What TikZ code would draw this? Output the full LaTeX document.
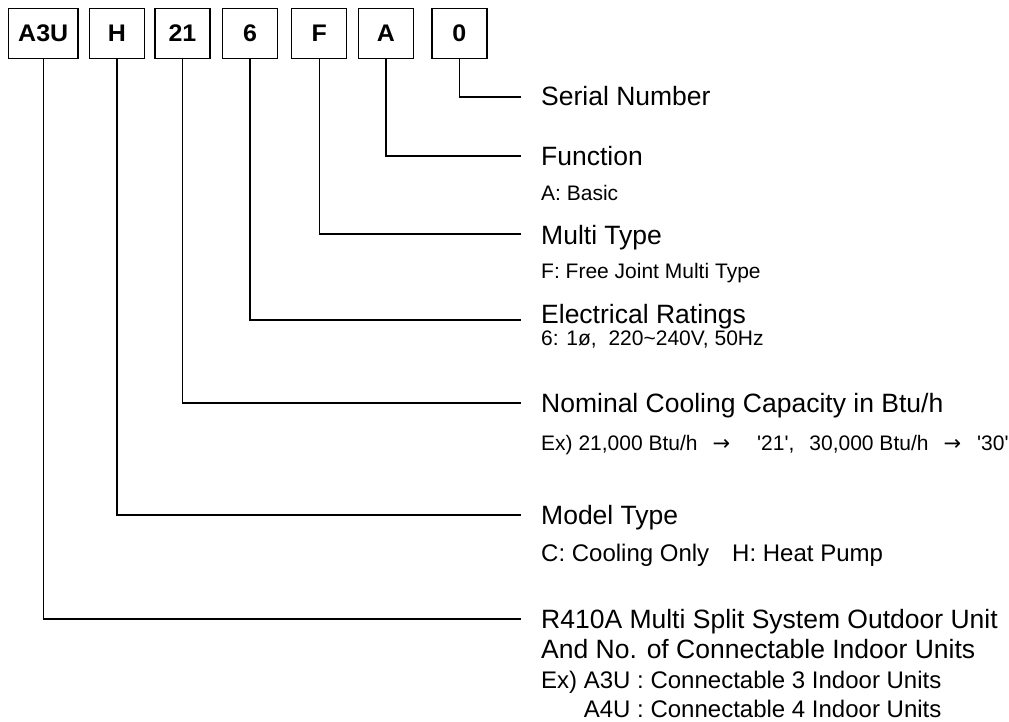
\documentclass[tikz,border=0pt]{standalone}
\usepackage{fontspec}
\usepackage{graphicx}
\newfontfamily\arial{Liberation Sans}
\newfontfamily\arrowfont{DejaVu Sans}
\tikzset{
  codebox/.style={draw, line width=1.5pt, minimum height=50pt, minimum width=55pt, inner sep=0pt,
    font=\arial\bfseries\fontsize{24}{24}\selectfont},
  lead/.style={line width=1.3pt},
  mainlbl/.style={anchor=base west, inner sep=0pt, font=\arial\fontsize{26.5}{26.5}\selectfont},
  sublbl/.style={anchor=base west, inner sep=0pt, font=\arial\fontsize{21}{21}\selectfont},
  midlbl/.style={anchor=base west, inner sep=0pt, font=\arial\fontsize{24}{24}\selectfont},
}
\newcommand{\wide}[1]{\raisebox{-1.6pt}{\scalebox{1.04}[1]{#1}}}
\begin{document}
\begin{tikzpicture}[x=1pt,y=-1pt]
\useasboundingbox (0,0) rectangle (1009,722);
% code boxes
\node[codebox, minimum width=69.5pt] (b1) at (43.2,33.4) {\wide{A3U}};
\node[codebox] (b2) at (117,33.4) {\wide{H}};
\node[codebox] (b3) at (182.5,33.4) {\wide{21}};
\node[codebox] (b4) at (250,33.4) {\wide{6}};
\node[codebox] (b5) at (319.2,33.4) {\wide{F}};
\node[codebox] (b6) at (386,33.4) {\wide{A}};
\node[codebox] (b7) at (459.3,33.4) {\wide{0}};
% leader ends
\coordinate (c7) at (521,97);
\coordinate (c6) at (521,156);
\coordinate (c5) at (521,234);
\coordinate (c4) at (521,320);
\coordinate (c3) at (521,403);
\coordinate (c2) at (521,515);
\coordinate (c1) at (521,619);
\draw[lead] (b7.south) |- (c7);
\draw[lead] (b6.south) |- (c6);
\draw[lead] (b5.south) |- (c5);
\draw[lead] (b4.south) |- (c4);
\draw[lead] (b3.south) |- (c3);
\draw[lead] (b2.south) |- (c2);
\draw[lead] (b1.south) |- (c1);
% labels
\node[mainlbl] (l7) at (541,106) {Serial Number};
\node[mainlbl] (l6) at (541,165.5) {Function};
\node[sublbl] (s6) at (541,200.7) {A: Basic};
\node[mainlbl] (l5) at (541,244) {Multi Type};
\node[sublbl] (s5) at (541,278) {F: Free Joint Multi Type};
\node[mainlbl] (l4) at (541,323) {Electrical Ratings};
\node[sublbl] (s4) at (541,345.5) {6: 1ø,\hspace{11.7pt}220\textasciitilde240V, 50Hz};
\node[mainlbl] (l3) at (541,412.3) {Nominal Cooling Capacity in Btu/h};
\node[sublbl] (s3) at (541,450.5) {Ex) 21,000 Btu/h\hspace{15pt}{\arrowfont →}\hspace{27pt}'21',\hspace{15pt}30,000 Btu/h\hspace{15pt}{\arrowfont →}\hspace{16pt}'30'};
\node[mainlbl] (l2) at (541,524.3) {Model Type};
\node[midlbl] (s2) at (541,561.6) {C: Cooling Only\hspace{23pt}H: Heat Pump};
\node[mainlbl] (l1) at (541,628.3) {R410A Multi Split System Outdoor Unit};
\node[mainlbl] (l1b) at (541,658.3) {And No. of Connectable Indoor Units};
\node[midlbl] (s1) at (541,688.6) {Ex) A3U : Connectable 3 Indoor Units};
\node[midlbl] (s1b) at (541,717.6) {\phantom{Ex) }A4U : Connectable 4 Indoor Units};
\end{tikzpicture}
\end{document}
